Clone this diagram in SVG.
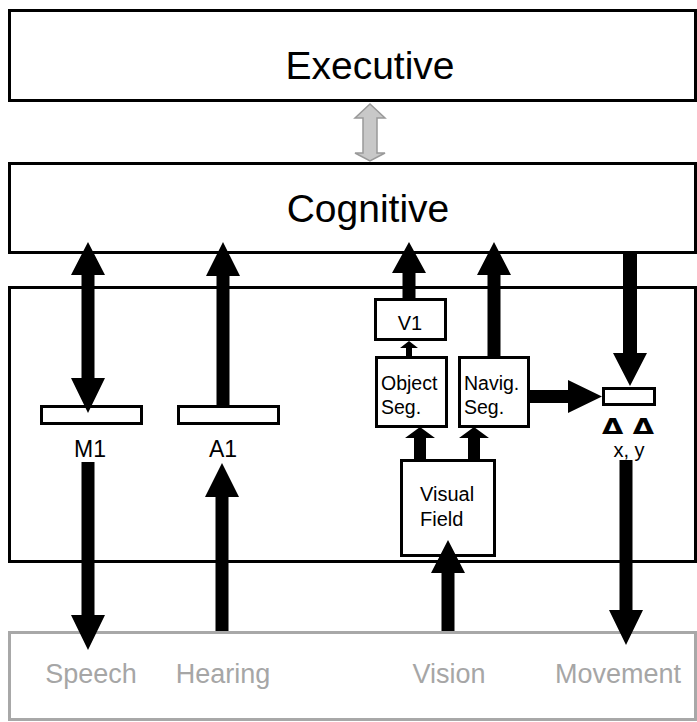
<svg xmlns="http://www.w3.org/2000/svg" width="697" height="722" viewBox="0 0 697 722">
<style>
.box{fill:#fff;stroke:#000;stroke-width:3}
.gbox{fill:#fff;stroke:#a8a8a8;stroke-width:3}
.t{font-family:"Liberation Sans",Arial,sans-serif;fill:#000}
.d{font-family:"DejaVu Sans",sans-serif;fill:#000;font-size:22px;font-weight:bold;text-anchor:middle}
.g{font-family:"Liberation Sans",Arial,sans-serif;fill:#a6a6a6;font-size:27px;text-anchor:middle}
.ar{fill:#000;stroke:none}
</style>
<rect width="697" height="722" fill="#fff"/>
<g id="executive">
<rect class="box" x="9.5" y="10.5" width="686" height="90"/>
<text class="t" x="370" y="79" font-size="39" text-anchor="middle">Executive</text>
</g>
<g id="cognitive">
<rect class="box" x="9.5" y="163.5" width="686" height="89"/>
<text class="t" x="368" y="222" font-size="39" text-anchor="middle">Cognitive</text>
</g>
<g id="middle">
<rect class="box" x="9.5" y="287.5" width="686" height="274"/>
</g>
<g id="senses">
<rect class="gbox" x="9.5" y="632.5" width="686" height="87"/>
<text class="g" x="91" y="683">Speech</text>
<text class="g" x="223" y="683">Hearing</text>
<text class="g" x="449" y="683">Vision</text>
<text class="g" x="618" y="683">Movement</text>
</g>
<g id="m1">
<rect class="box" x="41.5" y="406.5" width="100" height="17"/>
<text class="t" x="90" y="457" font-size="23" text-anchor="middle">M1</text>
</g>
<g id="a1">
<rect class="box" x="178.5" y="406.5" width="100" height="17"/>
<text class="t" x="223" y="457" font-size="23" text-anchor="middle">A1</text>
</g>
<g id="v1">
<rect class="box" x="375.5" y="299.5" width="70" height="40"/>
<text class="t" x="410" y="330" font-size="20" text-anchor="middle">V1</text>
</g>
<g id="objectseg">
<rect class="box" x="376.5" y="357.5" width="70" height="69"/>
<text class="t" x="381" y="390" font-size="19.5">Object</text>
<text class="t" x="381" y="414" font-size="19.5">Seg.</text>
</g>
<g id="navigseg">
<rect class="box" x="459.5" y="357.5" width="69" height="69"/>
<text class="t" x="464" y="390" font-size="19.5">Navig.</text>
<text class="t" x="464" y="414" font-size="19.5">Seg.</text>
</g>
<g id="visualfield">
<rect class="box" x="401.5" y="460.5" width="93" height="95"/>
<text class="t" x="420" y="501" font-size="20">Visual</text>
<text class="t" x="420" y="526" font-size="20">Field</text>
</g>
<g id="dxdy">
<rect class="box" x="603.5" y="388.5" width="51" height="16"/>
<text class="d" transform="translate(628 434) scale(1.25 1)" x="0" y="0">Δ Δ</text>
<text class="t" x="629" y="457" font-size="20" text-anchor="middle">x, y</text>
</g>
<g id="connectors">
<polygon fill="#c8c8c8" stroke="#999" stroke-width="1.5" points="370,104 385,118 377,118 377,153 385,153 370,161 355,153 363,153 363,118 355,118"/>
<polygon class="ar" points="88,242 105,275 94.5,275 94.5,378 105,378 88,413 71,378 81.5,378 81.5,275 71,275"/>
<polygon class="ar" points="223,242 240,276 229.5,276 229.5,406 216.5,406 216.5,276 206,276"/>
<polygon class="ar" points="409,242 426,273 415.5,273 415.5,299 402.5,299 402.5,273 392,273"/>
<polygon class="ar" points="494,242 511,275 500.5,275 500.5,357 487.5,357 487.5,275 477,275"/>
<polygon class="ar" points="630,386 647,353 637,353 637,252 623,252 623,353 613,353"/>
<polygon class="ar" points="602,396.5 568,413 568,403 529,403 529,390 568,390 568,380"/>
<polygon class="ar" points="409,341 418,348 412,348 412,357 406,357 406,348 400,348"/>
<polygon class="ar" points="420,427 435,438 426,438 426,460 414,460 414,438 405,438"/>
<polygon class="ar" points="474,427 489,438 480,438 480,460 468,460 468,438 459,438"/>
<polygon class="ar" points="88,650 105,615 94.5,615 94.5,462 81.5,462 81.5,615 71,615"/>
<polygon class="ar" points="222,463 239,497 228.5,497 228.5,631 215.5,631 215.5,497 205,497"/>
<polygon class="ar" points="448,540 465,573 454.5,573 454.5,631 441.5,631 441.5,573 431,573"/>
<polygon class="ar" points="626,645 643,610 632.5,610 632.5,460 619.5,460 619.5,610 609,610"/>
</g>
</svg>
